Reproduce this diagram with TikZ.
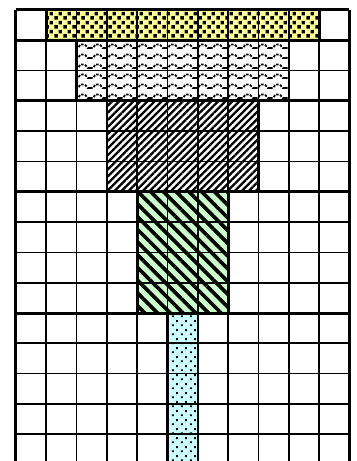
\documentclass[tikz,border=0pt]{standalone}
\usetikzlibrary{patterns,patterns.meta}
\pgfdeclarepatternformonly{yelsq}{\pgfqpoint{0pt}{0pt}}{\pgfqpoint{9pt}{9pt}}{\pgfqpoint{9pt}{9pt}}{%
  \pgfpathrectangle{\pgfqpoint{0.5pt}{0.5pt}}{\pgfqpoint{3.7pt}{3.7pt}}%
  \pgfpathrectangle{\pgfqpoint{5pt}{5pt}}{\pgfqpoint{3.7pt}{3.7pt}}%
  \pgfusepath{fill}}
\pgfdeclarepatternformonly{wavy}{\pgfqpoint{-1pt}{-1pt}}{\pgfqpoint{16pt}{11pt}}{\pgfqpoint{15pt}{10pt}}{%
  \pgfsetlinewidth{1.8pt}%
  \pgfsetdash{{2.5pt}{1.5pt}}{0pt}%
  \pgfpathmoveto{\pgfqpoint{0pt}{3pt}}%
  \pgfpathlineto{\pgfqpoint{3pt}{3pt}}%
  \pgfpathlineto{\pgfqpoint{5.5pt}{6.5pt}}%
  \pgfpathlineto{\pgfqpoint{10pt}{6.5pt}}%
  \pgfpathlineto{\pgfqpoint{12.5pt}{3pt}}%
  \pgfpathlineto{\pgfqpoint{15pt}{3pt}}%
  \pgfusepath{stroke}}
\pgfdeclarepatternformonly{cyandots}{\pgfqpoint{0pt}{0pt}}{\pgfqpoint{9pt}{9pt}}{\pgfqpoint{9pt}{9pt}}{%
  \pgfpathrectangle{\pgfqpoint{1pt}{1pt}}{\pgfqpoint{2pt}{2pt}}%
  \pgfpathrectangle{\pgfqpoint{5.5pt}{5.5pt}}{\pgfqpoint{2pt}{2pt}}%
  \pgfusepath{fill}}
\definecolor{yel}{HTML}{FFFF99}
\definecolor{grn}{HTML}{CCFFCC}
\definecolor{cyn}{HTML}{CCFFFF}
\tikzset{
  thinline/.style={line width=1.7pt, black},
  thickline/.style={line width=3pt, black},
  yelzone/.style={fill=yel, postaction={pattern=yelsq}},
  wavezone/.style={fill=white, postaction={pattern=wavy}},
  hatchzone/.style={fill=white, postaction={pattern={Lines[angle=45,distance=5pt,line width=2.3pt]}}},
  grnzone/.style={fill=grn, postaction={pattern={Lines[angle=-45,distance=9pt,line width=3.7pt]}}},
  cynzone/.style={fill=cyn, postaction={pattern=cyandots}}
}
\begin{document}
\begin{tikzpicture}[x=30.3pt,y=-30.3pt,shift={(16pt,-10pt)}]
\useasboundingbox (-0.528,-0.330) rectangle (11.221,14.884);
\begin{scope}
\clip (-0.528,-0.330) rectangle (11.221,14.884);
\fill[white] (-0.528,-0.330) rectangle (11.221,14.884);
% patterned zones
\path[yelzone] (1,0) rectangle (10,1);
\path[wavezone] (2,1) rectangle (9,3);
\path[hatchzone] (3,3) rectangle (8,6);
\path[grnzone] (4,6) rectangle (7,10);
\path[cynzone] (5,10) rectangle (6,15.5);
% thin grid
\foreach \i in {1,...,10} \draw[thinline] (\i,0) -- (\i,15.5);
\foreach \j in {1,...,15} \draw[thinline] (0,\j) -- (11,\j);
% thick block lines
\foreach \j in {0,1,3,6,10} \draw[thickline] (0,\j) -- (11,\j);
\draw[thickline] (0,0) -- (0,15.5);
\draw[thickline] (11,0) -- (11,15.5);
% zone outlines
\draw[thickline] (1,0) rectangle (10,1);
\draw[line width=2.3pt] (2,1) rectangle (9,3);
\draw[line width=2.5pt] (3,3) rectangle (8,6);
\draw[thickline] (4,6) rectangle (7,10);
\draw[line width=2.6pt] (5,10) -- (5,15.5) (6,10) -- (6,15.5);
\end{scope}
\end{tikzpicture}
\end{document}
